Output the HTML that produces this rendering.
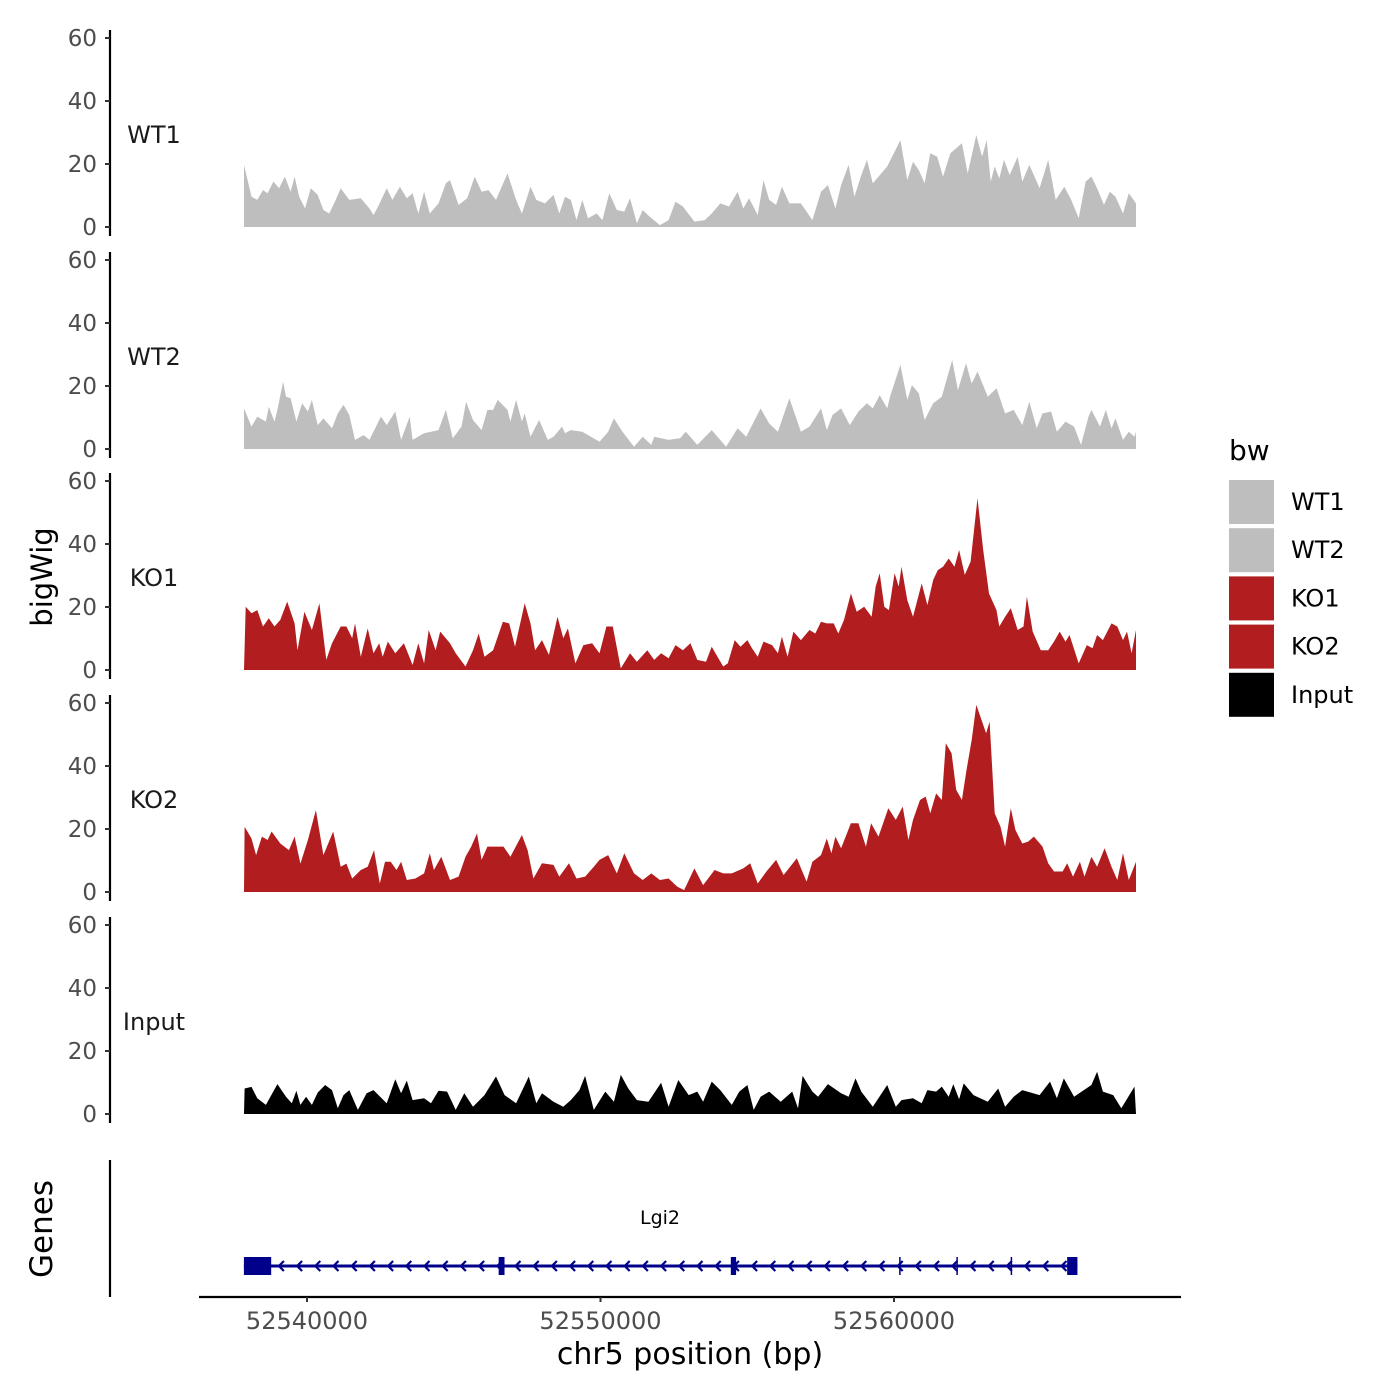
<!DOCTYPE html>
<html><head><meta charset="utf-8">
<style>
html,body{margin:0;padding:0;background:#fff;}
svg{display:block;font-family:"DejaVu Sans","Liberation Sans",sans-serif;}
</style></head>
<body>
<svg id="chart" width="1400" height="1400" viewBox="0 0 1400 1400" xmlns="http://www.w3.org/2000/svg">
  <g id="panels"></g>
  <g id="genes"></g>
  <text x="0" y="0" transform="translate(52,577) rotate(-90)" text-anchor="middle" font-size="29" fill="#000">bigWig</text>
  <text x="0" y="0" transform="translate(52,1229) rotate(-90)" text-anchor="middle" font-size="31" fill="#000">Genes</text>
  <text x="690" y="1364" text-anchor="middle" font-size="30" fill="#000">chr5 position (bp)</text>
  <g id="legend">
    <text x="1229" y="460" font-size="28" fill="#000">bw</text>
  </g>
</svg>
<script>
const NS = "http://www.w3.org/2000/svg";
// genomic coordinate of bin 0 and bin size (bp)
const startBp = 52537717;
const binSize = 19.6;
const trackNames = ["WT1", "WT2", "KO1", "KO2", "Input"];
const trackColors = ["#bebebe", "#bebebe", "#b21e1f", "#b21e1f", "#000000"];
const yTicks = [0, 20, 40, 60];
const xTicks = [52540000, 52550000, 52560000];
const xTickLabels = ["52540000", "52550000", "52560000"];

const wt1Pos = [5,20,30,40,48,58,68,78,88,95,103,113,123,135,145,155,165,175,190,210,225,232,240,255,265,278,290,300,310,320,330,345,358,365,380,395,408,420,432,445,465,480,490,505,515,530,545,555,565,575,585,595,605,620,630,642,655,668,678,690,700,712,730,745,757,770,790,808,820,835,850,865,875,885,900,910,920,932,942,955,975,995,1010,1022,1035,1045,1058,1068,1080,1090,1100,1110,1125,1148,1160,1170,1180,1190,1200,1212,1222,1235,1255,1265,1280,1290,1298,1305,1312,1320,1328,1338,1352,1360,1372,1390,1405,1418,1433,1445,1458,1470,1480,1490,1502,1512,1522,1535,1545,1558];
const wt1Val = [19.7,9.6,8.6,11.7,10.7,14.4,12.3,16,11.2,16,9.6,5.9,12.3,10.2,5.4,4.3,8,12.3,8.6,9.1,5.9,3.8,6.5,12.3,8.6,12.8,9.1,10.7,4.3,11.2,4.3,7.5,13.9,14.9,7,9.1,16,11.2,11.7,8.6,17,8.6,4.3,12.8,8.6,7.5,10.2,4.3,9.6,8.6,2.2,8.6,2.8,4.3,2.2,10.7,5.4,4.9,9.1,1.2,5.4,3.3,0.6,2.2,8,6.5,1.7,2.2,4.3,7.5,6.5,11.2,5.9,9.1,3.8,14.9,8.6,7,12.8,7.5,7.5,2.2,11.2,13.3,5.9,13.3,19.7,9.6,16.5,21.3,13.9,16,19.2,27.6,14.9,20.7,18.1,13.9,23.4,22.3,16,23.4,26.6,17,29.2,22.3,27.6,14.4,19.2,15.4,21.3,16.5,22.3,14.4,19.7,12.3,21.3,8.6,12.8,8.6,2.8,14.4,16,12.3,7,11.2,9.6,4.3,10.7,7.5];

const wt2Pos = [0,20,30,45,50,60,65,75,80,88,98,108,118,125,135,145,160,170,180,190,200,215,225,235,245,255,270,280,295,300,320,345,358,370,385,393,405,420,430,440,448,465,470,480,490,495,505,520,535,545,560,565,575,595,625,640,650,665,685,700,715,720,745,765,775,795,820,845,865,880,905,920,935,955,975,990,1010,1020,1030,1045,1060,1075,1090,1100,1112,1125,1130,1148,1160,1168,1180,1190,1205,1220,1238,1248,1262,1272,1282,1300,1315,1330,1345,1360,1372,1385,1395,1410,1420,1435,1450,1462,1475,1480,1495,1505,1515,1522,1535,1545,1555,1562];
const wt2Val = [12.9,7.1,10.3,8.7,13.4,8.7,12.4,21.4,16.6,16.1,8.7,14.5,11.9,15.6,7.6,9.7,6.6,11.3,14,10.8,2.9,4.4,2.9,6.6,10.3,7.6,11.9,2.9,10.3,2.9,5,6,12.4,3.4,7.1,15,9.2,6,12.4,12.4,15.6,12.4,8.7,15.6,8.7,11.3,3.9,9.2,2.9,3.9,7.1,5,6,5.5,2.3,5.5,9.7,5.5,0.7,3.9,1.3,3.9,2.9,3.4,5.5,1.3,6,0.7,6.6,3.9,12.9,8.1,5.5,16.1,5.5,7.1,12.9,6,10.8,12.9,7.6,11.9,14.5,12.9,17.1,12.9,16.6,26.7,15.6,20.3,17.7,9.2,14.5,16.6,28.3,18.7,27.2,20.8,24.6,16.6,19.3,11.3,12.4,7.6,15,6.6,11.3,11.9,5.5,8.7,7.1,1.3,10.3,12.4,7.1,12.4,6.6,9.7,2.9,5.5,3.9,5.5];

const ko1Pos = [10,20,30,40,50,60,70,82,95,100,112,125,138,150,160,175,185,195,200,210,222,232,242,248,257,270,285,300,310,320,328,340,348,365,375,392,405,415,425,440,457,468,478,495,505,513,525,537,552,562,570,583,597,612,625,637,648,662,678,690,708,720,732,745,757,770,783,795,810,820,840,848,860,870,882,890,900,910,925,935,942,952,962,975,990,1000,1010,1020,1032,1040,1050,1062,1072,1085,1098,1105,1112,1120,1128,1138,1145,1150,1160,1170,1185,1195,1205,1213,1222,1232,1242,1250,1260,1270,1282,1292,1302,1315,1320,1330,1340,1352,1362,1368,1378,1392,1405,1415,1425,1435,1442,1458,1472,1482,1490,1500,1515,1525,1535,1542,1550,1560];
const ko1Val = [20.1,18,19,13.8,16.4,13.8,15.9,21.7,14.8,6.3,18.5,12.7,21.2,3.2,8.5,13.8,13.8,10.1,14.8,4.2,13.2,5.3,8.5,4.2,9,5.3,8.5,1.6,8.5,2.1,12.7,6.3,12.2,8.5,5.3,1.1,6.3,11.6,4.2,6.3,15.3,14.8,7.4,21.2,14.8,6.3,9.5,4.8,16.9,10.1,13.2,2.1,7.9,8.5,5.3,13.8,13.8,0.5,5.3,2.6,6.3,3.2,5.3,3.7,7.9,6.3,8.5,3.2,2.6,7.4,1.1,2.1,9.5,7.4,9.5,6.9,4.2,9,7.9,5.3,10.6,4.2,12.2,9.5,12.7,11.6,15.3,14.8,14.8,11.6,15.9,24.3,18.5,20.1,16.9,26.5,30.7,20.1,19,30.7,26.5,32.8,22.2,16.9,27.5,20.6,28.6,31.7,32.8,35.4,32.8,38.1,30.2,34.4,54.5,38.1,24.3,19,13.8,16.9,19.6,12.7,13.8,23.3,12.2,6.3,6.3,9,12.2,9,11.1,2.1,7.9,6.9,11.1,9.5,14.8,13.8,9.5,12.2,5.3,12.7];

const ko2Pos = [8,20,28,38,48,55,70,85,95,105,118,132,145,162,175,185,195,210,222,233,243,252,262,272,280,290,305,320,330,337,350,365,380,392,402,412,420,430,445,458,470,490,500,510,525,545,555,572,585,600,615,625,640,655,668,685,700,715,730,745,760,772,790,805,825,840,855,875,887,900,915,932,945,968,985,995,1010,1020,1028,1035,1045,1062,1075,1088,1097,1110,1127,1140,1152,1162,1170,1182,1192,1200,1210,1220,1227,1237,1245,1255,1263,1272,1280,1290,1297,1303,1312,1322,1330,1340,1348,1360,1370,1380,1395,1405,1415,1430,1438,1448,1460,1468,1480,1490,1503,1515,1525,1535,1545,1558];
const ko2Val = [20.7,17,11.7,17.6,16.5,19.2,15.4,13.3,17.6,9,16.5,26,11.7,19.2,8,9,4.3,7,8,13.3,2.7,9.6,9.6,7,9.6,3.8,4.3,5.9,12.3,7,11.2,3.8,4.9,11.2,14.4,18.6,10.2,14.4,14.4,14.4,11.2,18.1,13.3,4.3,9.1,8.6,4.9,9.1,4.3,4.9,8,10.2,11.7,5.9,12.3,5.9,3.8,5.9,3.8,4.3,1.7,0.6,7.5,2.2,7,5.9,5.9,7.5,9.1,2.7,6.5,10.2,5.4,10.7,3.3,9.6,11.7,17,12.3,17.6,13.9,21.8,21.8,14.4,21.8,17.6,26.6,22.9,27.1,16.5,22.9,29.2,30.3,25,31.3,29.2,47.2,44,32.4,29.2,38.7,48.3,59.4,54.1,50.4,54.1,25,20.7,14.4,26.6,19.7,15.4,16,17.6,14.4,9.1,6.5,6.5,9.1,4.9,9.6,4.9,11.2,8,13.9,8,3.8,12.3,3.8,9.6];

const inputPos = [8,20,30,45,65,80,90,98,105,115,125,135,148,160,170,180,190,205,220,232,255,270,280,290,300,320,332,345,360,375,390,405,425,445,460,480,502,515,525,545,562,575,590,600,615,635,650,662,675,690,710,732,745,762,780,795,805,820,835,855,868,882,893,905,920,940,960,970,978,995,1005,1022,1045,1058,1070,1080,1100,1125,1140,1150,1170,1185,1195,1210,1220,1232,1240,1250,1258,1275,1300,1318,1330,1345,1360,1390,1408,1420,1432,1450,1480,1490,1500,1518,1532,1555];
const inputVal = [8.1,8.6,5,2.9,9.5,5.5,3.4,7.4,2.9,5.5,2.9,6.8,9.2,7.6,1.8,6,7.6,1.3,6.6,7.6,3.4,11,6.6,10.6,4.4,5,3.4,7.4,7.1,1.3,6.6,2.3,6,11.9,6,3.4,11.9,3.4,6.6,3.9,2.3,4.4,7.6,12.1,1.3,7.1,3.9,12.4,8.1,4.4,3.9,9.9,2.3,10.8,6,7.1,3.9,10.3,7.6,2.9,7.1,9.2,1.3,5.5,7.1,3.9,7.1,1.8,12.1,7.1,5.5,9.5,6.6,5.5,11.3,7.1,2.3,9.2,2.3,4.4,5,3.4,7.6,7.1,8.7,5.5,9.5,4.7,9.7,6,3.9,8.1,2.3,5.5,7.6,6,10.3,5,11.3,5.5,9.2,13.4,7.1,6,1.8,8.7];

const seriesPos = [wt1Pos, wt2Pos, ko1Pos, ko2Pos, inputPos];
const seriesVal = [wt1Val, wt2Val, ko1Val, ko2Val, inputVal];

// gene model (bp)
const geneStart = 52537850;
const geneEnd = 52566250;
const exonStarts = [52537850, 52546530, 52554440, 52565900];
const exonEnds = [52538780, 52546730, 52554620, 52566250];
const intronMarks = [52560200, 52562150, 52564000];
const geneName = "Lgi2";

// layout
const panelZeroY = [227, 449, 670, 892, 1114];
const pxPerUnit = 3.15;
const dataLeft = 244, dataRight = 1136;
function xScale(bp) { return 307 + (bp - 52540000) * 0.02935; }
function binToBp(b) { return startBp + b * binSize; }
function yScale(i, v) { return panelZeroY[i] - v * pxPerUnit; }

const panels = document.getElementById('panels');
function mk(tag, attrs, parent) {
  const e = document.createElementNS(NS, tag);
  for (const k in attrs) e.setAttribute(k, attrs[k]);
  parent.appendChild(e);
  return e;
}

trackNames.forEach((name, i) => {
  const g = mk('g', {}, panels);
  
  
  const z = panelZeroY[i];
  const axis = mk('line', {x1: 110, x2: 110, y1: z - 197, y2: z + 9, stroke: '#000', 'stroke-width': 2.2}, g);
  
  
  yTicks.forEach(t => {
    const y = yScale(i, t);
    const tk = mk('line', {x1: 105, x2: 110, y1: y, y2: y, stroke: '#333', 'stroke-width': 2}, g);
    
    
    const lb = mk('text', {x: 97, y: y + 8, 'text-anchor': 'end', 'font-size': 23, fill: '#4d4d4d'}, g);
    lb.textContent = t;
    
    
  });
  const tl = mk('text', {x: 154, y: z - 84, 'text-anchor': 'middle', 'font-size': 24, fill: '#1a1a1a'}, g);
  tl.textContent = name;
  
  
  const pos = seriesPos[i], val = seriesVal[i];
  let d = 'M' + dataLeft + ',' + z;
  pos.forEach((b, k) => {
    let x = Math.min(dataRight, Math.max(dataLeft, xScale(binToBp(b))));
    d += ' L' + x.toFixed(1) + ',' + yScale(i, val[k]).toFixed(1);
  });
  d += ' L' + dataRight + ',' + z + ' Z';
  const area = mk('path', {d: d, fill: trackColors[i]}, g);
  
  
});

// genes track
const gg = document.getElementById('genes');
const gaxis = mk('line', {x1: 110, x2: 110, y1: 1160, y2: 1297, stroke: '#000', 'stroke-width': 2.2}, gg);


const xaxis = mk('line', {x1: 199, x2: 1181, y1: 1297, y2: 1297, stroke: '#000', 'stroke-width': 2.2}, gg);


xTicks.forEach((t, k) => {
  const x = xScale(t);
  const tk = mk('line', {x1: x, x2: x, y1: 1297, y2: 1302, stroke: '#333', 'stroke-width': 2}, gg);
  
  
  const lb = mk('text', {x: x, y: 1329, 'text-anchor': 'middle', 'font-size': 24, fill: '#4d4d4d'}, gg);
  lb.textContent = xTickLabels[k];
  
  
});
const gx1 = xScale(geneStart), gx2 = xScale(geneEnd);
const gline = mk('line', {x1: gx1, x2: gx2, y1: 1266, y2: 1266, stroke: '#00008b', 'stroke-width': 3}, gg);


for (let x = gx1 + 36; x < gx2 - 6; x += 18.2) {
  const a = mk('path', {d: `M${x+4},1261 L${x-1},1266 L${x+4},1271`, fill: 'none', stroke: '#00008b', 'stroke-width': 2.2}, gg);
  
  
}
intronMarks.forEach(b => {
  const x = xScale(b);
  const m = mk('line', {x1: x, x2: x, y1: 1257, y2: 1275, stroke: '#00008b', 'stroke-width': 1.5}, gg);
  
  
});
exonStarts.forEach((s, k) => {
  const x1 = xScale(s), x2 = xScale(exonEnds[k]);
  const r = mk('rect', {x: x1, y: 1257, width: Math.max(3, x2 - x1), height: 18, fill: '#00008b'}, gg);
  
  
});
const gn = mk('text', {x: 660, y: 1224, 'text-anchor': 'middle', 'font-size': 19, fill: '#000'}, gg);
gn.textContent = geneName;



// legend
const lg = document.getElementById('legend');
trackNames.forEach((name, i) => {
  const y = 480 + i * 48.2;
  const r = mk('rect', {x: 1229, y: y, width: 45, height: 44, fill: trackColors[i]}, lg);
  
  
  const t = mk('text', {x: 1291, y: y + 30, 'font-size': 24, fill: '#000'}, lg);
  t.textContent = name;
  
  
});
</script>
</body></html>
